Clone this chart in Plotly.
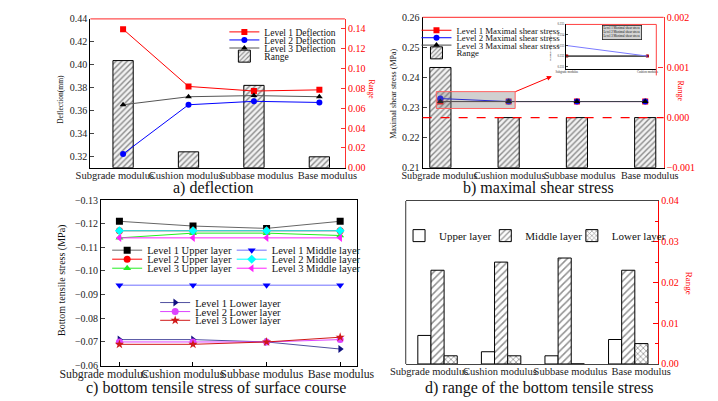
import plotly.graph_objects as go

W, H = 718, 401
SERIF = "Liberation Serif"

# ---------------- data ----------------
categories = ["Subgrade modulus", "Cushion modulus", "Subbase modulus", "Base modulus"]

# a) deflection (mm) and range
defl_l1 = [0.431, 0.381, 0.377, 0.378]
defl_l2 = [0.322, 0.365, 0.368, 0.367]
defl_l3 = [0.365, 0.372, 0.373, 0.372]
defl_range = [0.108, 0.016, 0.083, 0.011]

# b) maximal shear stress (MPa) and range
shear_l1 = [0.232, 0.232, 0.232, 0.232]
shear_l2 = [0.233, 0.232, 0.232, 0.232]
shear_l3 = [0.232, 0.232, 0.232, 0.232]
shear_range = [0.001, 0.0, 0.0, 0.0]

# c) bottom tensile stress of surface course (MPa)
upper_l1 = [-0.121, -0.119, -0.118, -0.121]
upper_l2 = [-0.117, -0.117, -0.117, -0.117]
upper_l3 = [-0.114, -0.116, -0.116, -0.115]
middle_l1 = [-0.094, -0.094, -0.094, -0.094]
middle_l2 = [-0.117, -0.117, -0.117, -0.117]
middle_l3 = [-0.114, -0.114, -0.114, -0.114]
lower_l1 = [-0.071, -0.071, -0.070, -0.067]
lower_l2 = [-0.070, -0.070, -0.070, -0.071]
lower_l3 = [-0.069, -0.069, -0.070, -0.072]

# d) range of the bottom tensile stress
upper_range = [0.007, 0.003, 0.002, 0.006]
middle_range = [0.023, 0.025, 0.026, 0.023]
lower_range = [0.002, 0.002, 0.0, 0.005]

# axis ranges
A_LEFT = [0.31, 0.44]
A_RIGHT = [0.0, 0.15]
B_LEFT = [0.21, 0.26]
B_RIGHT = [-0.001, 0.002]
C_Y = [-0.06, -0.13]
D_RIGHT = [0.0, 0.04]


def X(p):
    return p / W


def Y(p):
    return 1 - p / H


boxes = {
    "a": ((52.7, 330.0), (13.3, 166.7)),
    "b": ((414.7, 677.3), (11.7, 166.7)),
    "c": ((64.3, 343.3), (200.0, 370.7)),
    "d": ((396.3, 671.3), (201.0, 369.0)),
    "i": ((570.7, 669.3), (19.0, 64.7)),
}


def xdom(k):
    (x0, x1), _ = boxes[k]
    return [X(x0), X(x1)]


def ydom(k):
    _, (y0, y1) = boxes[k]
    return [Y(y1), Y(y0)]


legends = {}


def new_legend(text_x, row_y, size):
    n = len(legends) + 1
    key = "legend" if n == 1 else f"legend{n}"
    legends[key] = dict(
        x=X(text_x - 40), y=Y(row_y), xanchor="left", yanchor="middle",
        bgcolor="rgba(0,0,0,0)", borderwidth=0, tracegroupgap=0,
        font=dict(family=SERIF, size=size, color="#111"),
    )
    return key


def line(y, name, color, symbol, xa, ya, leg, size=6, lcolor=None, show=True, xs=None):
    return go.Scatter(
        x=xs if xs is not None else categories, y=y, mode="lines+markers", name=name,
        xaxis=xa, yaxis=ya,
        line=dict(color=lcolor or color, width=1),
        marker=dict(color=color, symbol=symbol, size=size, line=dict(width=0)),
        legend=leg, showlegend=show,
    )


def label_trace(xa, ya, yvals):
    # invisible trace that carries the category tick labels of a panel
    return go.Scatter(x=categories, y=yvals, xaxis=xa, yaxis=ya, mode="markers",
                      marker=dict(opacity=0), hoverinfo="skip", showlegend=False)


hatch = dict(shape="/", fgcolor="#222", bgcolor="#f2f2f2", size=4, solidity=0.35)

fig = go.Figure()

# ---------------- panel a ----------------
fig.add_trace(go.Bar(
    x=categories, y=defl_range, name="Range", xaxis="x", yaxis="y", width=0.31,
    marker=dict(color="white", line=dict(color="black", width=1), pattern=hatch),
    legend=new_legend(238.7, 51.7, 9.5)))
fig.add_trace(line(defl_l1, "Level 1 Deflection", "red", "square", "x", "y2", new_legend(238.7, 26.7, 9.5)))
fig.add_trace(line(defl_l2, "Level 2 Deflection", "blue", "circle", "x", "y2", new_legend(238.7, 35.0, 9.5)))
fig.add_trace(line(defl_l3, "Level 3 Deflection", "black", "triangle-up", "x", "y2",
                   new_legend(238.7, 43.3, 9.5), lcolor="#555"))
fig.add_trace(label_trace("x5", "y", defl_range))

# ---------------- panel b ----------------
fig.add_trace(go.Bar(
    x=categories, y=[v - B_RIGHT[0] for v in shear_range], base=B_RIGHT[0], name="Range",
    xaxis="x2", yaxis="y3", width=0.31,
    marker=dict(color="white", line=dict(color="black", width=1), pattern=hatch),
    legend=new_legend(448, 48.3, 8.8)))
fig.add_trace(line(shear_l1, "Level 1 Maximal shear stress", "red", "square", "x2", "y4",
                   new_legend(448, 25.0, 8.8)))
fig.add_trace(line(shear_l2, "Level 2 Maximal shear stress", "blue", "circle", "x2", "y4",
                   new_legend(448, 32.7, 8.8)))
fig.add_trace(line(shear_l3, "Level 3 Maximal shear stress", "black", "triangle-up", "x2", "y4",
                   new_legend(448, 40.3, 8.8), lcolor="#444"))
fig.add_trace(label_trace("x9", "y3", shear_range))

# inset: first two categories of panel b
fig.add_trace(line(shear_l3[:2], "L3", "black", "triangle-up", "x8", "y7", None, size=3, lcolor="#333",
                   show=False, xs=categories[:2]))
fig.add_trace(line(shear_l1[:2], "L1", "#b00000", "square", "x8", "y7", None, size=3, lcolor="#333",
                   show=False, xs=categories[:2]))
fig.add_trace(line(shear_l2[:2], "L2", "blue", "circle", "x8", "y7", None, size=1, lcolor="#7a7aff",
                   show=False, xs=categories[:2]))

# ---------------- panel c ----------------
c_series = [
    (upper_l1, "Level 1 Upper layer", "black", "square", "#666", 111, 251.7),
    (upper_l2, "Level 2 Upper layer", "red", "circle", None, 111, 261.0),
    (upper_l3, "Level 3 Upper layer", "#22ee22", "triangle-up", None, 111, 270.3),
    (middle_l1, "Level 1 Middle layer", "blue", "triangle-down", "#7070ff", 246.7, 251.7),
    (middle_l2, "Level 2 Middle layer", "cyan", "diamond", None, 246.7, 261.0),
    (middle_l3, "Level 3 Middle layer", "#ff20ff", "triangle-left", None, 246.7, 270.3),
    (lower_l1, "Level 1 Lower layer", "#101080", "triangle-right", "#5050a0", 163.3, 305.7),
    (lower_l2, "Level 2 Lower layer", "#dd44ff", "circle", None, 163.3, 315.0),
    (lower_l3, "Level 3 Lower layer", "#d01818", "star", None, 163.3, 324.0),
]
for vals, name, col, sym, lcol, tx, ty in c_series:
    fig.add_trace(line(vals, name, col, sym, "x3", "y5", new_legend(tx, ty, 10.5), size=7, lcolor=lcol))
fig.add_trace(label_trace("x6", "y5", lower_l1))

# ---------------- panel d ----------------
d_series = [
    (upper_range, "Upper layer", dict(color="white"), 429),
    (middle_range, "Middle layer", dict(color="white", pattern=dict(shape="/", fgcolor="#222", bgcolor="white",
                                                                     size=5, solidity=0.3)), 523),
    (lower_range, "Lower layer", dict(color="white", pattern=dict(shape="x", fgcolor="#222", bgcolor="white",
                                                                   size=4, solidity=0.35)), 617.3),
]
for vals, name, mk, tx in d_series:
    mk = dict(mk, line=dict(color="black", width=1))
    fig.add_trace(go.Bar(x=categories, y=vals, name=name, xaxis="x4", yaxis="y6", marker=mk,
                         legend=new_legend(tx, 236.7, 11)))
fig.add_trace(label_trace("x7", "y6", upper_range))

# ---------------- axes ----------------
tickf = dict(family=SERIF, size=10, color="#222")
redf = dict(family=SERIF, size=10, color="red")

base_x = dict(type="category", showgrid=False, zeroline=False, showline=True, linecolor="black",
              linewidth=1, showticklabels=False, ticks="", tickangle=0)
lab_x = dict(type="category", showgrid=False, zeroline=False, showline=False, ticks="", tickangle=0,
             showticklabels=True)

layout_axes = dict(
    # panel a
    xaxis=dict(base_x, domain=xdom("a"), anchor="y", range=[-0.5, 3.39]),
    xaxis5=dict(lab_x, overlaying="x", anchor="y", side="bottom", range=[-0.345, 3.247],
                tickfont=dict(family=SERIF, size=10.5, color="#222")),
    yaxis=dict(domain=ydom("a"), anchor="x", side="right", range=A_RIGHT, dtick=0.02, tickformat=".2f",
               showgrid=False, zeroline=False, showline=True, linecolor="#ff3030", linewidth=1.3,
               ticks="inside", ticklen=4, tickcolor="#ff3030", tickfont=redf),
    yaxis2=dict(overlaying="y", anchor="x", side="left", range=A_LEFT, dtick=0.02, tickformat=".2f",
                showgrid=False, zeroline=False, showline=True, linecolor="black", linewidth=1,
                ticks="inside", ticklen=4, tickfont=tickf),
    # panel b
    xaxis2=dict(base_x, domain=xdom("b"), anchor="y3", range=[-0.26, 3.27]),
    xaxis9=dict(lab_x, overlaying="x2", anchor="y3", side="bottom", range=[-0.241, 3.198],
                tickfont=dict(family=SERIF, size=10.2, color="#222")),
    yaxis3=dict(domain=ydom("b"), anchor="x2", side="right", range=B_RIGHT, dtick=0.001, tickformat=".3f",
                showgrid=False, zeroline=False, showline=True, linecolor="#ff3030", linewidth=1.3,
                ticks="inside", ticklen=5, tickcolor="#ff3030", tickfont=redf),
    yaxis4=dict(overlaying="y3", anchor="x2", side="left", range=B_LEFT, dtick=0.01, tickformat=".2f",
                showgrid=False, zeroline=False, showline=True, linecolor="black", linewidth=1,
                ticks="inside", ticklen=4, tickfont=tickf),
    # panel c
    xaxis3=dict(base_x, domain=xdom("c"), anchor="y5", range=[-0.25, 3.23], mirror=True,
                ticks="inside", ticklen=4, tickcolor="black"),
    xaxis6=dict(lab_x, overlaying="x3", anchor="y5", side="bottom", range=[-0.032, 3.204],
                tickfont=dict(family=SERIF, size=11.8, color="#222")),
    yaxis5=dict(domain=ydom("c"), anchor="x3", range=C_Y, dtick=0.01, tickformat=".2f",
                showgrid=False, zeroline=False, showline=True, mirror=True, linecolor="black", linewidth=1,
                ticks="inside", ticklen=4, tickfont=tickf),
    # panel d
    xaxis4=dict(base_x, domain=xdom("d"), anchor="y6", range=[-0.5, 3.47], mirror=True, linecolor="#444"),
    xaxis7=dict(lab_x, overlaying="x4", anchor="y6", side="bottom", range=[-0.331, 3.24],
                tickfont=dict(family=SERIF, size=10.5, color="#222")),
    yaxis6=dict(domain=ydom("d"), anchor="x4", side="right", range=D_RIGHT, dtick=0.01, tickformat=".2f",
                showgrid=False, zeroline=False, showline=True, linecolor="red", linewidth=1.3,
                ticks="inside", ticklen=5, tickcolor="red", tickfont=redf,
                minor=dict(ticks="inside", ticklen=3, dtick=0.005, tickcolor="red")),
    # inset
    xaxis8=dict(base_x, domain=xdom("i"), anchor="y7", range=[-0.011, 1.11], showticklabels=True,
                tickfont=dict(family=SERIF, size=3.0, color="#333"), linewidth=0.8),
    yaxis7=dict(domain=ydom("i"), anchor="x8", range=[0.2308, 0.235], dtick=0.001, tickformat=".3f",
                showgrid=False, zeroline=False, showline=True, linecolor="black", linewidth=0.8,
                ticks="inside", ticklen=2, tickfont=dict(family=SERIF, size=3.0, color="#333")),
)

shapes = [
    dict(type="line", xref="x domain", yref="y domain", x0=0, x1=1, y0=1, y1=1,
         line=dict(color="#ff5050", width=1.3)),
    dict(type="line", xref="x2 domain", yref="y3 domain", x0=0, x1=1, y0=1, y1=1,
         line=dict(color="#ff5050", width=1.3)),
    dict(type="line", xref="x2 domain", yref="y3", x0=0, x1=1, y0=0, y1=0,
         line=dict(color="red", width=1.2, dash="dash")),
    dict(type="rect", xref="x2", yref="y4", x0=-0.06, x1=1.095, y0=0.2297, y1=0.2353,
         fillcolor="rgba(120,120,120,0.35)", line=dict(color="#ff6060", width=1), layer="above"),
    dict(type="line", xref="x4 domain", yref="y6 domain", x0=0, x1=0, y0=0, y1=1,
         line=dict(color="#333", width=1)),
    dict(type="line", xref="x8 domain", yref="y7 domain", x0=0, x1=1, y0=1, y1=1,
         line=dict(color="#ff4040", width=1)),
    dict(type="line", xref="x8 domain", yref="y7 domain", x0=1, x1=1, y0=-0.15, y1=1,
         line=dict(color="#ff4040", width=1)),
]


def ann(text, x, y, size, color="#111", angle=0):
    return dict(text=text, x=X(x), y=Y(y), xref="paper", yref="paper", showarrow=False,
                xanchor="center", yanchor="middle", textangle=angle,
                font=dict(family=SERIF, size=size, color=color))


inset_leg = dict(
    text="Level 1 Maximal shear stress<br>Level 2 Maximal shear stress<br>Level 3 Maximal shear stress",
    x=X(632), y=Y(27.3), xref="paper", yref="paper", showarrow=False, align="left",
    xanchor="center", yanchor="middle",
    font=dict(family=SERIF, size=3.1, color="#111"), bgcolor="#d4d4d4", bordercolor="#222",
    borderwidth=0.8, borderpad=0.6)

annotations = [
    ann("a) deflection", 186.7, 187.3, 16),
    ann("b) maximal shear stress", 541.3, 188.0, 16),
    ann("c) bottom tensile stress of surface course", 190.0, 394.0, 16),
    ann("d) range of the bottom tensile stress", 541.3, 394.0, 16),
    ann("Deflection(mm)", 20.7, 95.7, 7.5, angle=-90),
    ann("Range", 359.0, 85.5, 7.5, color="red", angle=90),
    ann("Maximal shear stress (MPa)", 383.0, 91.0, 8, angle=-90),
    ann("Range", 695.5, 87.5, 8, color="red", angle=90),
    ann("Bottom tensile stress (MPa)", 21.7, 282.5, 10, angle=-90),
    ann("Range", 704.7, 286.0, 9, color="red", angle=90),
    ann("Maximal shear stress (MPa)", 554.5, 42.0, 2.4, angle=-90),
    inset_leg,
    dict(text="", x=X(555.5), y=Y(72.5), xref="paper", yref="paper", showarrow=True,
         ax=-38, ay=16, arrowcolor="red", arrowwidth=1, arrowhead=2, arrowsize=1),
]

fig.update_layout(
    width=W, height=H, margin=dict(l=0, r=0, t=0, b=0),
    paper_bgcolor="white", plot_bgcolor="white",
    barmode="group", bargap=0.38, bargroupgap=0,
    font=dict(family=SERIF, color="#111"),
    shapes=shapes, annotations=annotations,
    **layout_axes, **legends,
)

fig.write_html("out.html")
